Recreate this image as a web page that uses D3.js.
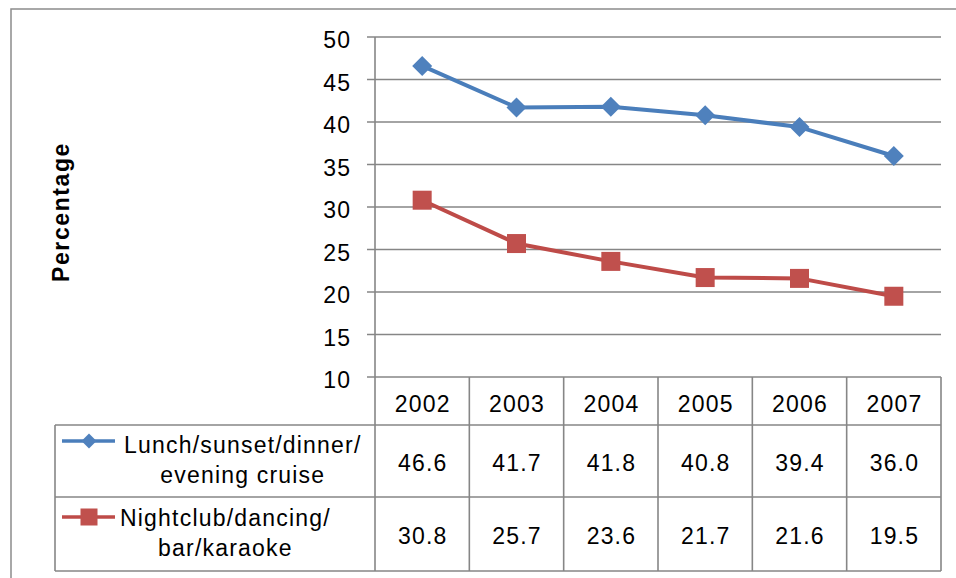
<!DOCTYPE html>
<html><head><meta charset="utf-8">
<script src="https://cdn.jsdelivr.net/npm/d3@7"></script>
<style>
html,body{margin:0;padding:0;background:#fff;}
svg{display:block;}
text{font-family:"Liberation Sans",Arial,sans-serif;fill:#000;}
</style></head>
<body>
<svg id="chart" width="956" height="578"></svg>
<script>
const years = ["2002","2003","2004","2005","2006","2007"];
const cruise = [46.6, 41.7, 41.8, 40.8, 39.4, 36.0];
const nightclub = [30.8, 25.7, 23.6, 21.7, 21.6, 19.5];
const seriesNames = [["Lunch/sunset/dinner/","evening cruise"],["Nightclub/dancing/","bar/karaoke"]];
const yTicks = [10,15,20,25,30,35,40,45,50];
const yTitle = "Percentage";

(function(){
const series = [
  {name: seriesNames[0], values: cruise, color: "#4A7EBB", fill: "#4F81BD", marker: "diamond"},
  {name: seriesNames[1], values: nightclub, color: "#BE4B48", fill: "#C0504D", marker: "square"}
];

const svg = d3.select("#chart");
const grid = "#868686";
const FS = 23, LS = 1.2;

// outer chart border
svg.append("rect").attr("x",11).attr("y",9).attr("width",1000).attr("height",1000)
  .attr("fill","none").attr("stroke","#8c8c8c").attr("stroke-width",1.5);

const pL = 375, pR = 941, pT = 37, pB = 377;
const x = d3.scaleBand().domain(years).range([pL,pR]);
const y = d3.scaleLinear().domain([10,50]).range([pB,pT]);

svg.append("g").selectAll("line").data(yTicks).join("line")
  .attr("x1",pL-8).attr("x2",pR).attr("y1",d=>y(d)).attr("y2",d=>y(d))
  .attr("stroke",grid).attr("stroke-width",1.6);
svg.append("line").attr("x1",pL).attr("x2",pL).attr("y1",pT).attr("y2",pB)
  .attr("stroke",grid).attr("stroke-width",1.6);
svg.append("g").selectAll("text").data(yTicks).join("text")
  .attr("x",350+LS).attr("y",d=>y(d)+3).attr("dy","0.36em")
  .attr("text-anchor","end").attr("font-size",FS).attr("letter-spacing",LS)
  .text(d=>d);

svg.append("text").attr("transform","translate(69,212) rotate(-90)")
  .attr("text-anchor","middle").attr("font-size",FS).attr("font-weight","bold")
  .attr("letter-spacing",1.6).text(yTitle);

const rowYear = [pB, 425], row1 = [425, 497], row2 = [497, 571];
const rows = [row1,row2];
const tableLeft = 55;
const tbl = svg.append("g").attr("stroke",grid).attr("stroke-width",1.6);
[425,497,571].forEach(v=>{
  tbl.append("line").attr("x1",tableLeft).attr("x2",pR).attr("y1",v).attr("y2",v);
});
tbl.append("line").attr("x1",tableLeft).attr("x2",tableLeft).attr("y1",425).attr("y2",571);
years.forEach(yr=>{
  tbl.append("line").attr("x1",x(yr)).attr("x2",x(yr)).attr("y1",pB).attr("y2",571);
});
tbl.append("line").attr("x1",pR).attr("x2",pR).attr("y1",pB).attr("y2",571);

svg.append("g").selectAll("text").data(years).join("text")
  .attr("x",d=>x(d)+x.bandwidth()/2+LS/2).attr("y",(rowYear[0]+rowYear[1])/2+3).attr("dy","0.36em")
  .attr("text-anchor","middle").attr("font-size",FS).attr("letter-spacing",LS).text(d=>d);

series.forEach((s,i)=>{
  const r = rows[i];
  svg.append("g").selectAll("text").data(s.values).join("text")
    .attr("x",(d,j)=>x(years[j])+x.bandwidth()/2+LS/2).attr("y",(r[0]+r[1])/2+2).attr("dy","0.36em")
    .attr("text-anchor","middle").attr("font-size",FS).attr("letter-spacing",LS)
    .text(d=>d.toFixed(1));
});

function drawMarker(g, type, cx, cy, size, fill){
  const h=size/2;
  if(type==="diamond"){
    g.append("path").attr("d",`M${cx},${cy-h}L${cx+h},${cy}L${cx},${cy+h}L${cx-h},${cy}Z`).attr("fill",fill);
  } else {
    g.append("rect").attr("x",cx-h).attr("y",cy-h).attr("width",size).attr("height",size).attr("fill",fill);
  }
}

series.forEach((s,i)=>{
  const r = rows[i];
  const cyKey = i===0 ? r[0]+16 : r[0]+20;
  const g = svg.append("g");
  g.append("line").attr("x1",62).attr("x2",115).attr("y1",cyKey).attr("y2",cyKey)
    .attr("stroke",s.color).attr("stroke-width",3.5);
  drawMarker(g, s.marker, 89, cyKey, s.marker==="diamond"?15:17, s.fill);
  const startX = i===0 ? 124 : 120;
  const mid = (r[0]+r[1])/2;
  const t1 = g.append("text").attr("x",startX).attr("y",mid-8)
    .attr("font-size",FS).attr("letter-spacing",LS).text(s.name[0]);
  const w = t1.node().getComputedTextLength();
  g.append("text").attr("x",startX + w/2).attr("y",mid+22).attr("text-anchor","middle")
    .attr("font-size",FS).attr("letter-spacing",LS).text(s.name[1]);
});

const line = d3.line().x((d,j)=>x(years[j])+x.bandwidth()/2).y(d=>y(d));
series.forEach(s=>{
  svg.append("path").datum(s.values).attr("d",line).attr("fill","none")
    .attr("stroke",s.color).attr("stroke-width",4).attr("stroke-linejoin","round");
  const g = svg.append("g");
  s.values.forEach((v,j)=>drawMarker(g, s.marker, x(years[j])+x.bandwidth()/2, y(v), s.marker==="diamond"?20:19, s.fill));
});
})();
</script>
</body></html>
